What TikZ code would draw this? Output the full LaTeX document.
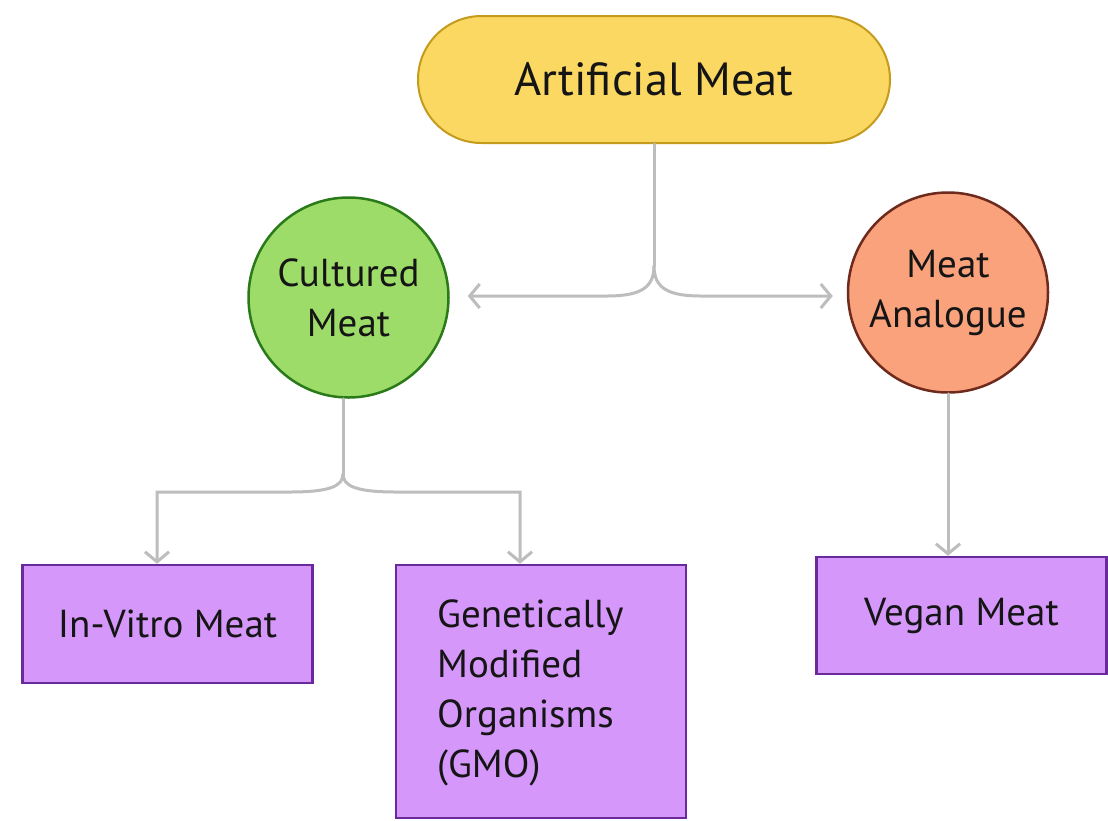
\documentclass[tikz,border=0pt]{standalone}
\usepackage{fontspec}
\setmainfont{PT Sans}
\usetikzlibrary{arrows.meta,shapes.misc}
\definecolor{yfill}{HTML}{FBD862}
\definecolor{ydraw}{HTML}{C49B1C}
\definecolor{gfill}{HTML}{9EDC6A}
\definecolor{gdraw}{HTML}{2A7A1A}
\definecolor{ofill}{HTML}{F9A27C}
\definecolor{odraw}{HTML}{6E2A1C}
\definecolor{pfill}{HTML}{D597FA}
\definecolor{pdraw}{HTML}{6A2A9C}
\definecolor{conncol}{HTML}{BDBDBD}
\definecolor{txt}{HTML}{151515}
\tikzset{
  x=1pt,y=-1pt,
  topnode/.style={rounded rectangle, fill=yfill, draw=ydraw, line width=2pt,
    minimum width=472pt, minimum height=127pt, inner sep=0pt,
    font=\fontsize{46.5}{56}\selectfont, text=txt},
  circnode/.style={circle, line width=2.5pt, minimum size=200pt, inner sep=0pt,
    align=center, font=\fontsize{39}{50}\selectfont, text=txt},
  leafbox/.style={rectangle, fill=pfill, draw=pdraw, line width=2.5pt,
    minimum width=290pt, inner sep=0pt, font=\fontsize{39}{50}\selectfont, text=txt},
  conn/.style={draw=conncol, line width=3pt, line cap=round,
    -{Straight Barb[length=10pt,width=24pt,line width=3pt]}},
  plain/.style={draw=conncol, line width=3pt, line cap=round}
}
\begin{document}
\begin{tikzpicture}
\useasboundingbox (0,0) rectangle (1108,820);
\fill[white] (0,0) rectangle (1108,820);
\node[topnode] (am) at (654,79.5) {Artificial Meat};
\node[circnode, fill=gfill, draw=gdraw] (cm) at (348.5,297.5) {Cultured\\Meat};
\node[circnode, fill=ofill, draw=odraw] (ma) at (948,292.5) {Meat\\Analogue};
\node[leafbox, minimum height=118pt] (iv) at (167.5,624) {In-Vitro Meat};
\node[leafbox, minimum height=253pt] (gmo) at (541,691.5) {};
\node[font=\fontsize{39}{50}\selectfont, text=txt, align=left, anchor=north west, inner sep=0pt] (gmot) at (437,600) {Genetically\\Modified\\Organisms\\(GMO)};
\node[leafbox, minimum height=117pt] (vm) at (961.5,615.5) {Vegan Meat};
\coordinate (j1) at (654,266);
\coordinate (j2) at (343,474);
% top branch
\draw[plain] (am.south) -- (j1);
\draw[conn, shorten >=18pt] (j1) .. controls (654,288) and (640,296) .. (607,296) -- (cm.east |- 0,296);
\draw[conn, shorten >=14pt] (j1) .. controls (654,288) and (668,296) .. (701,296) -- (ma.west |- 0,296);
% cultured branch
\draw[plain] (cm.south -| j2) -- (j2);
\draw[conn] (j2) .. controls (343,486) and (330,492) .. (290,492) -- (157,492) -- (iv.north -| 157,0);
\draw[conn] (j2) .. controls (343,486) and (356,492) .. (396,492) -- (520,492) -- (gmo.north -| 520,0);
% analogue
\draw[conn] (ma.south) -- (vm.north -| ma.south);
\end{tikzpicture}
\end{document}
